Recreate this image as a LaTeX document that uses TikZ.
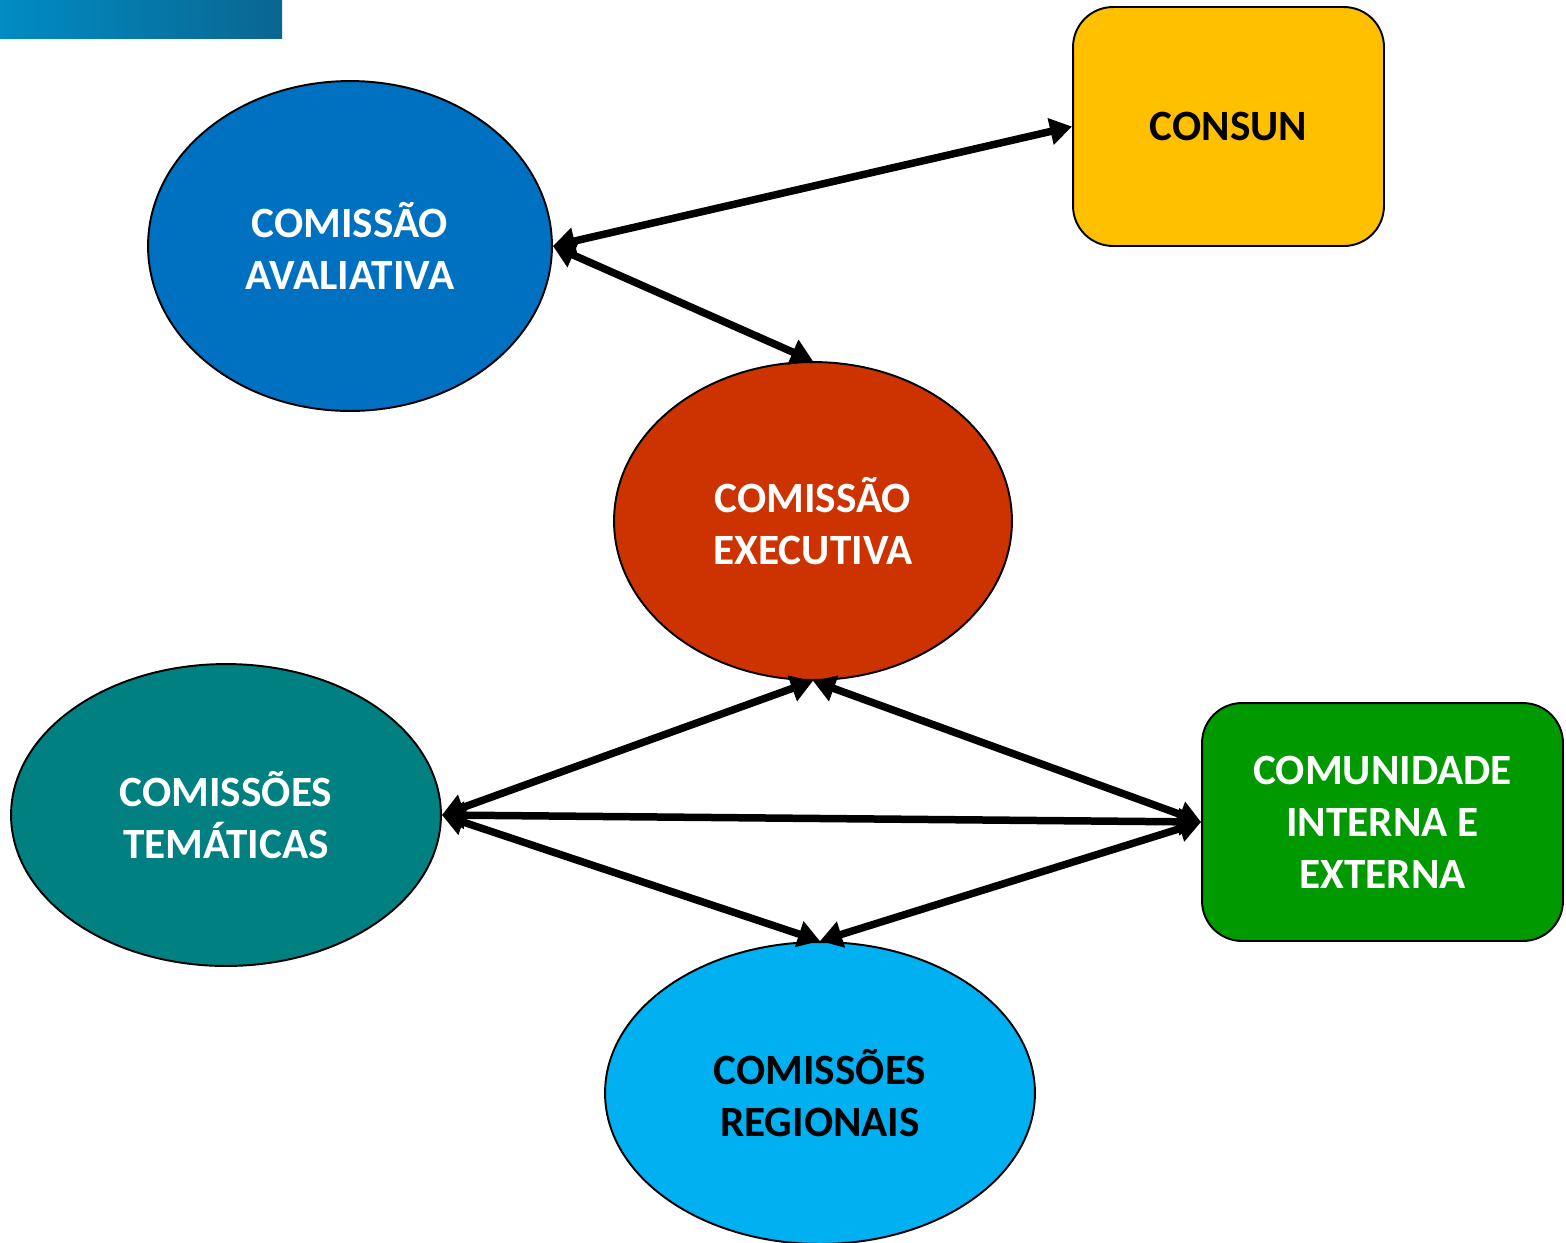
\documentclass[tikz,border=0pt]{standalone}
\usepackage{fontspec}
\setmainfont{Carlito}
\usetikzlibrary{shapes.geometric,arrows.meta}
\definecolor{avblue}{HTML}{0070C0}
\definecolor{consun}{HTML}{FFC000}
\definecolor{exered}{HTML}{CC3300}
\definecolor{temteal}{HTML}{008080}
\definecolor{comgreen}{HTML}{009900}
\definecolor{regblue}{HTML}{00B0F0}
\definecolor{barL}{HTML}{008CC4}
\definecolor{barR}{HTML}{0A6690}
\tikzset{
  lbl/.style={font=\bfseries\fontsize{24.6}{29.5}\selectfont, align=center, inner sep=0pt},
  ell/.style={ellipse, draw=black, line width=1.1pt, lbl},
  rbox/.style={rectangle, rounded corners=0.8cm, draw=black, line width=1.1pt, lbl},
  link/.style={line width=0.15cm, {Triangle[length=0.44cm,width=0.52cm]}-{Triangle[length=0.44cm,width=0.52cm]}}
}
\begin{document}
\begin{tikzpicture}[x=0.02cm,y=-0.02cm]
\useasboundingbox (0,0) rectangle (1566,1242);
\fill[left color=barL, right color=barR] (0,0) rectangle (282,38);
\node[ell, fill=avblue, text=white, minimum width=8.08cm, minimum height=6.6cm] (ava) at (350,246) {COMISSÃO\\AVALIATIVA};
\node[rbox, fill=consun, text=black, minimum width=6.22cm, minimum height=4.78cm] (con) at (1228.5,126.5) {CONSUN};
\node[ell, fill=exered, text=white, minimum width=7.96cm, minimum height=6.36cm] (exe) at (813,521) {COMISSÃO\\EXECUTIVA};
\node[ell, fill=temteal, text=white, minimum width=8.6cm, minimum height=6.04cm] (tem) at (226,815) {COMISSÕES\\TEMÁTICAS};
\node[rbox, fill=comgreen, text=white, minimum width=7.22cm, minimum height=4.76cm] (com) at (1382.5,822) {COMUNIDADE\\INTERNA E\\EXTERNA};
\node[ell, fill=regblue, text=black, minimum width=8.6cm, minimum height=6.04cm] (reg) at (820,1093) {COMISSÕES\\REGIONAIS};
\draw[link] (ava.east) -- (con.west);
\draw[link] (ava.east) -- (exe.north);
\draw[link] (tem.east) -- (exe.south);
\draw[link] (com.west) -- (exe.south);
\draw[link] (tem.east) -- (com.west);
\draw[link] (tem.east) -- (reg.north);
\draw[link] (com.west) -- (reg.north);
\end{tikzpicture}
\end{document}
